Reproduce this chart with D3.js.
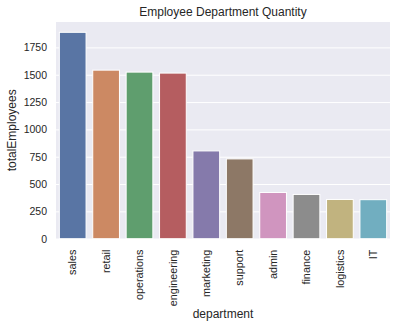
<!DOCTYPE html>
<html>
<head>
<meta charset="utf-8">
<script src="https://cdn.jsdelivr.net/npm/d3@7"></script>
<style>
  body { margin: 0; background: #fff; }
  text { font-family: "Liberation Sans", Arial, sans-serif; fill: #262626; }
</style>
</head>
<body>
<svg id="chart"></svg>
<script>
var width = 397, height = 327;
var margin = { top: 22, right: 7, bottom: 88.3, left: 56 }; // plot area edges

// Data
var departments = ["sales", "retail", "operations", "engineering", "marketing",
                   "support", "admin", "finance", "logistics", "IT"];
var totalEmployees = [1888, 1542, 1524, 1515, 803, 730, 423, 405, 359, 357];
var yTicks = [0, 250, 500, 750, 1000, 1250, 1500, 1750];
// seaborn "deep", desaturated the way barplot does it
var barColors = ["#5975a4", "#cc8963", "#5f9e6e", "#b55d60", "#857aab",
                 "#8d7866", "#d095bf", "#8c8c8c", "#c1b37f", "#71aec0"];

var svg = d3.select("#chart").attr("width", width).attr("height", height);

var x0 = margin.left, x1 = width - margin.right;
var y0 = height - margin.bottom, y1 = margin.top;

var x = d3.scaleBand().domain(departments).range([x0, x1]).paddingInner(0.2).paddingOuter(0.1);
var y = d3.scaleLinear().domain([0, d3.max(totalEmployees) * 1.05]).range([y0, y1]);

// Background
svg.append("rect")
  .attr("x", x0).attr("y", y1)
  .attr("width", x1 - x0).attr("height", y0 - y1)
  .attr("fill", "#eaeaf2");

// Grid + y ticks
var yAxis = svg.append("g")
  .attr("transform", "translate(" + x0 + ",0)")
  .call(d3.axisLeft(y).tickValues(yTicks).tickFormat(d3.format("d"))
    .tickSize(-(x1 - x0)).tickPadding(9));
yAxis.select(".domain").remove();
yAxis.selectAll(".tick line").attr("stroke", "#fff").attr("stroke-width", 1);
yAxis.selectAll(".tick text").style("font-size", "10.5px").attr("fill", "#262626");

// Bars
svg.append("g").selectAll("rect")
  .data(totalEmployees)
  .enter().append("rect")
  .attr("x", function(d, i) { return x(departments[i]); })
  .attr("y", function(d) { return y(d); })
  .attr("width", x.bandwidth())
  .attr("height", function(d) { return y0 - y(d); })
  .attr("fill", function(d, i) { return barColors[i]; })
  .attr("stroke", "#fff")
  .attr("stroke-width", 1);

// X tick labels (rotated)
var xAxis = svg.append("g")
  .attr("transform", "translate(0," + y0 + ")")
  .call(d3.axisBottom(x).tickSize(0).tickPadding(0));
xAxis.select(".domain").remove();
xAxis.selectAll(".tick text")
  .style("font-size", "10.8px")
  .attr("fill", "#262626")
  .attr("text-anchor", "end")
  .attr("dy", "0.35em")
  .attr("transform", "translate(0,11) rotate(-90)");

// Title and axis labels
svg.append("text")
  .attr("x", (x0 + x1) / 2).attr("y", 16)
  .attr("text-anchor", "middle")
  .style("font-size", "12px")
  .text("Employee Department Quantity");

svg.append("text")
  .attr("x", (x0 + x1) / 2).attr("y", 318)
  .attr("text-anchor", "middle")
  .style("font-size", "12px")
  .text("department");

svg.append("text")
  .attr("transform", "translate(16," + ((y0 + y1) / 2) + ") rotate(-90)")
  .attr("text-anchor", "middle")
  .style("font-size", "12px")
  .text("totalEmployees");
</script>
</body>
</html>
